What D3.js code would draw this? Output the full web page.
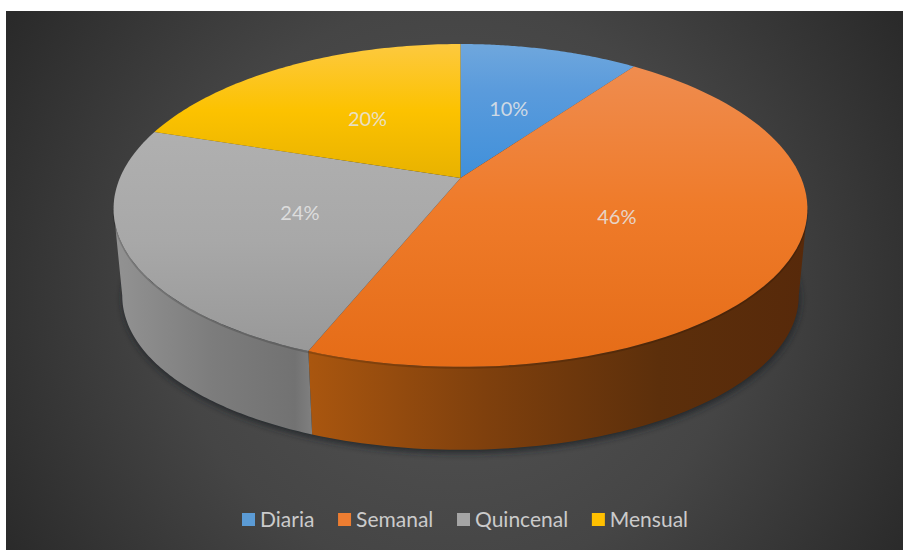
<!DOCTYPE html>
<html><head><meta charset="utf-8">
<script src="https://cdn.jsdelivr.net/npm/d3@7/dist/d3.min.js"></script>
<style>html,body{margin:0;padding:0;background:#fff}svg{display:block}</style>
</head><body><svg id="c" width="903" height="550"></svg>
<script>
const categories = ["Diaria","Semanal","Quincenal","Mensual"];
const values = [10,46,24,20];
const topStops = [
  [["0%","#6fa7dd"],["35%","#5a9bdc"],["100%","#4090da"]],
  [["0%","#ef8f55"],["50%","#ef7b2a"],["100%","#e56c17"]],
  [["0%","#b0b0b0"],["50%","#a8a8a8"],["100%","#989898"]],
  [["0%","#fdc93f"],["50%","#fcc200"],["100%","#e8b200"]]
];
const wallStops = [
  null,
  [["0%","#a9560f"],["35%","#7f400d"],["70%","#5c2f0b"],["100%","#57290a"]],
  [["0%","#939393"],["50%","#7c7c7c"],["90%","#727272"],["100%","#828282"]],
  null
];
const legendColors = ["#5b9bd5","#ed7d31","#a5a5a5","#ffc000"];
const svg = d3.select("#c"), W=903, H=550;
const defs = svg.append("defs");
const bg = defs.append("radialGradient").attr("id","bg").attr("gradientUnits","userSpaceOnUse")
  .attr("cx",455).attr("cy",290).attr("r",520);
[["0%","#555555"],["55%","#454545"],["100%","#2a2a2a"]].forEach(s=>bg.append("stop").attr("offset",s[0]).attr("stop-color",s[1]));
defs.append("filter").attr("id","blur").attr("x","-10%").attr("y","-10%").attr("width","120%").attr("height","120%")
  .append("feGaussianBlur").attr("stdDeviation",3.5);
svg.append("rect").attr("x",6).attr("y",11).attr("width",W-6).attr("height",H-11).attr("fill","url(#bg)");

// perspective disc (slightly egg-shaped, wider toward the viewer)
const cx=460.5, cy=178, k=-0.17, a=126.5, c=341.8, ellCy=205.5, egg=0.02, wallScale=0.975, wallCy=292.5;
const project=(th,r=1)=>{
  const u=r*Math.sin(th),v=-r*Math.cos(th),w=1+k*v,y=(cy+a*v)/w;
  return [cx+(c*u/w)*(1+egg*(y-ellCy)/161),y];
};
const lower=p=>[cx+(p[0]-cx)*wallScale, wallCy+(p[1]-ellCy)*wallScale];
const line=d3.line();
const pie=d3.pie().sort(null).startAngle(0).endAngle(2*Math.PI)(values);
const samples=(s,e)=>d3.range(0,1.0001,1/80).map(t=>s+t*(e-s));

const mk=(id,stops,x1,y1,x2,y2)=>{const g=defs.append("linearGradient").attr("id",id).attr("gradientUnits","userSpaceOnUse")
  .attr("x1",x1).attr("y1",y1).attr("x2",x2).attr("y2",y2);
  stops.forEach(s=>g.append("stop").attr("offset",s[0]).attr("stop-color",s[1]));};
mk("top0",topStops[0],0,44,0,178);
mk("top1",topStops[1],0,44,0,367);
mk("top2",topStops[2],0,130,0,352);
mk("top3",topStops[3],0,44,0,178);
mk("wall1",wallStops[1],310,0,808,0);
mk("wall2",wallStops[2],113,0,315,0);

const full=d3.range(0,2*Math.PI+0.001,Math.PI/180);
// angles where the disc's silhouette turns: walls are only visible between them
const thRight=full[d3.greatestIndex(full,t=>project(t)[0])];
const thLeft=full[d3.leastIndex(full,t=>project(t)[0])];

// shadow under the disc
svg.append("path").attr("d",line(full.map(t=>{const p=lower(project(t));return [p[0]+1,p[1]+3];}))+"Z")
  .attr("fill","#1c2026").attr("opacity",0.85).attr("filter","url(#blur)");

// walls
[1,2].forEach(i=>{
  const d=pie[i];
  const ang=samples(Math.max(d.startAngle,thRight),Math.min(d.endAngle,thLeft));
  const up=ang.map(t=>project(t));
  const lo=ang.map(t=>lower(project(t))).reverse();
  svg.append("path").attr("d",line(up.concat(lo))+"Z").attr("fill",`url(#wall${i})`);
});
// thin shade just under the front rim
svg.append("path").attr("d",line(samples(thRight,thLeft).map(t=>{const p=project(t);return [p[0],p[1]+1];})))
  .attr("fill","none").attr("stroke","#000").attr("stroke-opacity",0.16).attr("stroke-width",2);

// top face
svg.append("g").selectAll("path").data(pie).join("path")
  .attr("d",d=>line([[cx,cy]].concat(samples(d.startAngle,d.endAngle).map(t=>project(t))))+"Z")
  .attr("fill",(d,i)=>`url(#top${i})`);

// value labels
const total=d3.sum(values);
svg.append("g").selectAll("text").data(pie).join("text")
  .attr("x",d=>project((d.startAngle+d.endAngle)/2,0.5)[0])
  .attr("y",d=>project((d.startAngle+d.endAngle)/2,0.5)[1])
  .attr("text-anchor","middle").attr("dy","0.35em")
  .attr("font-family","Lato").attr("font-size",20).attr("fill","#e6e6e6").attr("fill-opacity",0.85)
  .text(d=>Math.round(d.value/total*100)+"%");

// legend
const lg=svg.append("g");
let lx=242; const box=13, ly=527;
categories.forEach((n,i)=>{
  lg.append("rect").attr("x",lx).attr("y",ly-14).attr("width",box).attr("height",box).attr("fill",legendColors[i]);
  const t=lg.append("text").attr("x",lx+box+5).attr("y",ly).attr("font-family","Lato").attr("font-size",21).attr("fill","#cbcbcb").text(n);
  lx+=box+5+t.node().getComputedTextLength()+23.7;
});
</script></body></html>
